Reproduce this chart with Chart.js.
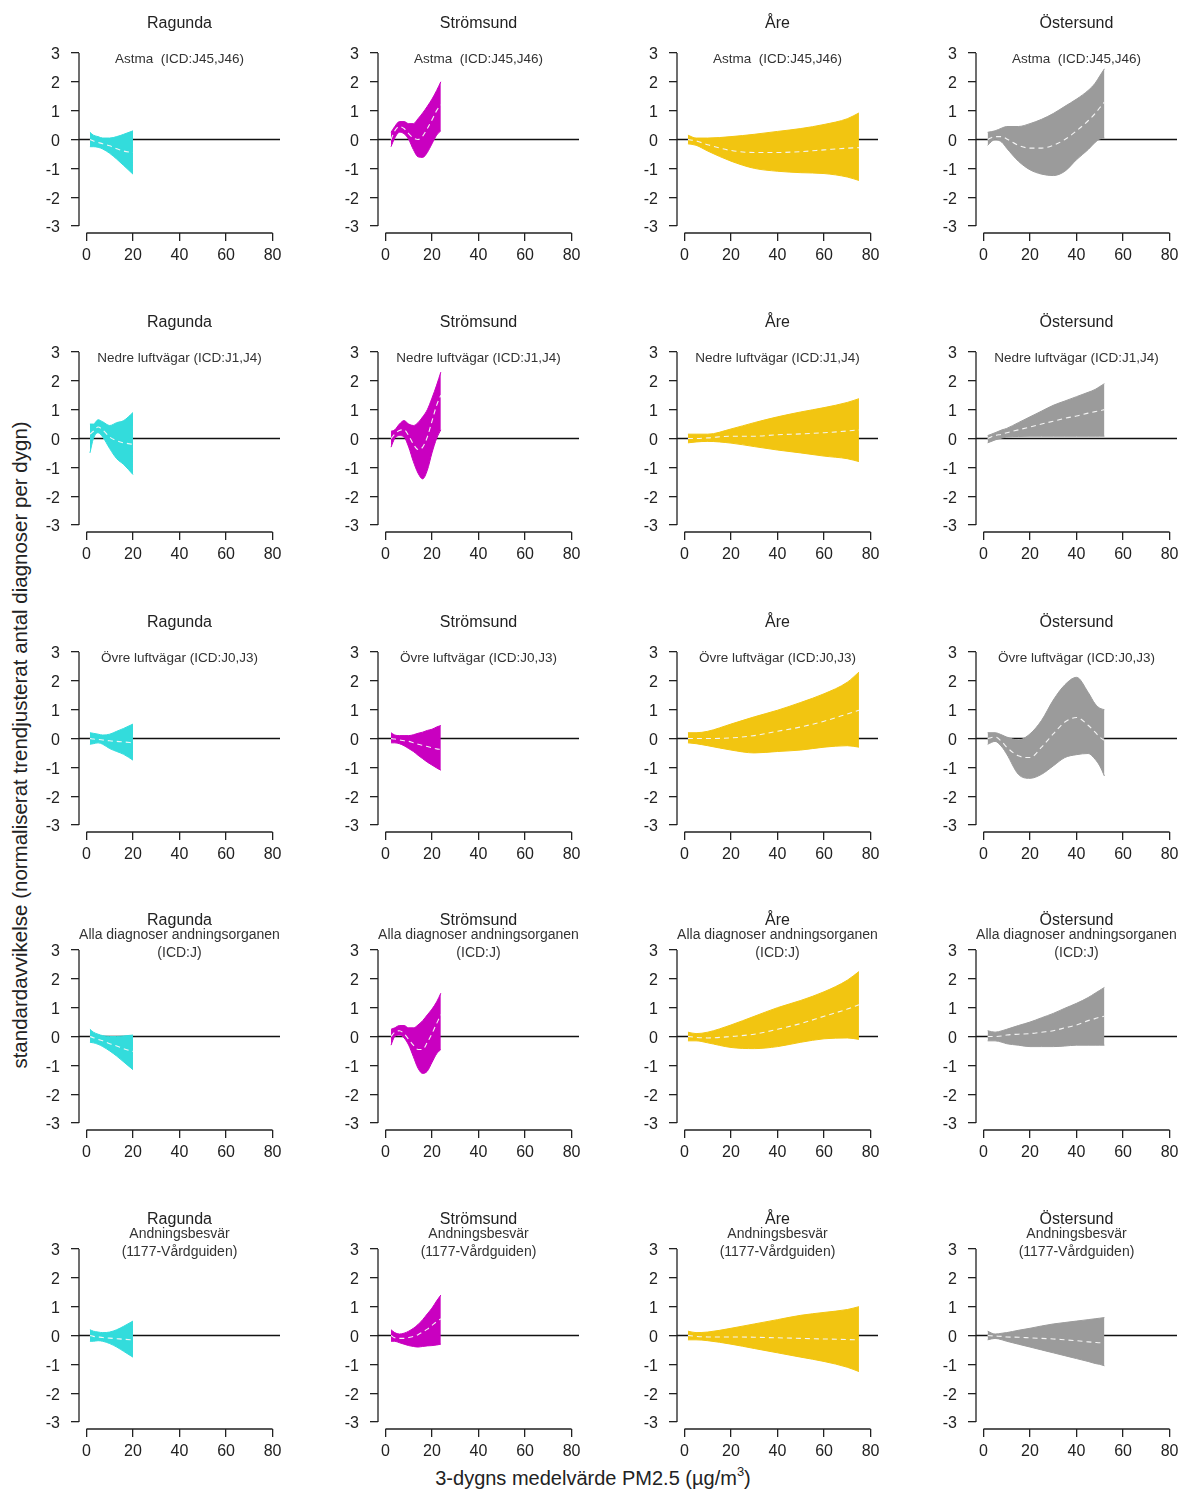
<!DOCTYPE html>
<html lang="sv">
<head>
<meta charset="utf-8">
<title>PM2.5 och andningsdiagnoser</title>
<script src="https://cdn.jsdelivr.net/npm/chart.js@4.4.1/dist/chart.umd.min.js"></script>
<style>
    html, body { margin: 0; padding: 0; background: #fff; }
    body {
        width: 1180px; height: 1492px; position: relative; overflow: hidden;
        font-family: "Liberation Sans", Arial, sans-serif; color: #222;
    }
    canvas.panel { position: absolute; }
    #ytitel {
        position: absolute; left: 20px; top: 745px; white-space: nowrap; font-size: 20.5px;
        transform: translate(-50%, -50%) rotate(-90deg);
    }
    #xtitel {
        position: absolute; left: 593px; top: 1478px; white-space: nowrap; font-size: 20px;
        transform: translate(-50%, -50%);
    }
    #xtitel sup { font-size: 13px; line-height: 0; vertical-align: 9px; }
</style>
</head>
<body>
<div id="ytitel">standardavvikelse (normaliserat trendjusterat antal diagnoser per dygn)</div>
<div id="xtitel">3-dygns medelvärde PM2.5 (µg/m<sup>3</sup>)</div>
<script>
// Orter (kolumner) och diagnosgrupper (rader)
const orter = ["Ragunda", "Strömsund", "Åre", "Östersund"];
const diagnoser = [
    ["Astma  (ICD:J45,J46)"],
    ["Nedre luftvägar (ICD:J1,J4)"],
    ["Övre luftvägar (ICD:J0,J3)"],
    ["Alla diagnoser andningsorganen", "(ICD:J)"],
    ["Andningsbesvär", "(1177-Vårdguiden)"],
];
const xTicks = [0, 20, 40, 60, 80];
const yTicks = [-3, -2, -1, 0, 1, 2, 3];

// --- Ragunda ---
const xRag = [1.5, 3, 5, 7, 10, 13, 16, 20];
const ragAstmaHi = [0.25, 0.15, 0.1, 0.05, 0.05, 0.1, 0.18, 0.3];
const ragAstmaMid = [0, -0.05, -0.1, -0.15, -0.22, -0.32, -0.4, -0.45];
const ragAstmaLo = [-0.25, -0.25, -0.27, -0.33, -0.48, -0.68, -0.9, -1.2];
const ragNedreHi = [0.5, 0.5, 0.65, 0.58, 0.45, 0.55, 0.62, 0.9];
const ragNedreMid = [0.15, 0.25, 0.4, 0.3, 0.05, -0.08, -0.15, -0.2];
const ragNedreLo = [-0.5, 0.0, 0.2, 0.05, -0.35, -0.7, -0.9, -1.25];
const ragOvreHi = [0.2, 0.18, 0.15, 0.12, 0.15, 0.25, 0.35, 0.5];
const ragOvreMid = [0, -0.02, -0.03, -0.05, -0.08, -0.1, -0.12, -0.15];
const ragOvreLo = [-0.2, -0.18, -0.15, -0.2, -0.35, -0.45, -0.55, -0.75];
const ragAllaHi = [0.25, 0.15, 0.08, 0.03, 0.0, 0.0, 0.02, 0.05];
const ragAllaMid = [0, -0.04, -0.1, -0.15, -0.25, -0.33, -0.42, -0.52];
const ragAllaLo = [-0.2, -0.22, -0.27, -0.35, -0.5, -0.68, -0.88, -1.15];
const ragAndnHi = [0.2, 0.15, 0.12, 0.1, 0.12, 0.2, 0.32, 0.5];
const ragAndnMid = [0, -0.03, -0.05, -0.07, -0.09, -0.11, -0.13, -0.15];
const ragAndnLo = [-0.2, -0.2, -0.18, -0.2, -0.28, -0.4, -0.55, -0.75];

// --- Strömsund ---
const xStr = [2.4, 4, 6, 8, 10, 12, 14, 16, 18, 20, 22, 23.8];
const strAstmaHi = [0.25, 0.45, 0.62, 0.62, 0.55, 0.55, 0.72, 0.92, 1.15, 1.4, 1.7, 2.0];
const strAstmaMid = [0, 0.3, 0.45, 0.38, 0.2, 0.05, 0.0, 0.12, 0.38, 0.68, 1.0, 1.2];
const strAstmaLo = [-0.25, 0.05, 0.25, 0.2, 0.0, -0.35, -0.6, -0.62, -0.45, -0.15, 0.15, 0.3];
const strNedreHi = [0.25, 0.3, 0.5, 0.62, 0.5, 0.45, 0.55, 0.75, 1.0, 1.4, 1.85, 2.3];
const strNedreMid = [0, 0.15, 0.28, 0.3, 0.1, -0.2, -0.38, -0.3, 0.05, 0.6, 1.15, 1.5];
const strNedreLo = [-0.3, 0.0, 0.1, 0.05, -0.3, -0.8, -1.2, -1.4, -1.1, -0.5, 0.0, 0.3];
const strOvreHi = [0.2, 0.12, 0.1, 0.1, 0.1, 0.13, 0.18, 0.22, 0.28, 0.32, 0.4, 0.45];
const strOvreMid = [0, -0.02, -0.05, -0.08, -0.1, -0.15, -0.2, -0.24, -0.28, -0.32, -0.36, -0.38];
const strOvreLo = [-0.15, -0.15, -0.18, -0.25, -0.35, -0.45, -0.58, -0.7, -0.82, -0.92, -1.02, -1.1];
const strAllaHi = [0.25, 0.3, 0.38, 0.38, 0.3, 0.3, 0.4, 0.55, 0.75, 0.95, 1.2, 1.5];
const strAllaMid = [0, 0.15, 0.2, 0.1, -0.1, -0.3, -0.45, -0.45, -0.2, 0.1, 0.45, 0.75];
const strAllaLo = [-0.3, 0.0, 0.05, -0.05, -0.3, -0.7, -1.1, -1.28, -1.2, -0.9, -0.6, -0.45];
const strAndnHi = [0.2, 0.1, 0.05, 0.08, 0.15, 0.25, 0.38, 0.55, 0.75, 0.95, 1.2, 1.4];
const strAndnMid = [0, -0.08, -0.1, -0.1, -0.07, -0.03, 0.03, 0.12, 0.22, 0.35, 0.48, 0.58];
const strAndnLo = [-0.2, -0.2, -0.25, -0.3, -0.35, -0.38, -0.4, -0.38, -0.36, -0.35, -0.33, -0.3];

// --- Åre ---
const xAre = [1.5, 5, 10, 20, 30, 40, 50, 60, 70, 75];
const areAstmaHi = [0.15, 0.05, 0.05, 0.1, 0.18, 0.28, 0.38, 0.52, 0.72, 0.92];
const areAstmaMid = [0, -0.05, -0.18, -0.38, -0.45, -0.45, -0.42, -0.36, -0.3, -0.28];
const areAstmaLo = [-0.15, -0.2, -0.4, -0.75, -1.0, -1.1, -1.15, -1.18, -1.3, -1.42];
const areNedreHi = [0.15, 0.15, 0.15, 0.33, 0.55, 0.75, 0.92, 1.07, 1.25, 1.38];
const areNedreMid = [0, 0, 0.02, 0.08, 0.08, 0.13, 0.16, 0.2, 0.26, 0.3];
const areNedreLo = [-0.15, -0.12, -0.1, -0.16, -0.28, -0.4, -0.5, -0.61, -0.7, -0.8];
const areOvreHi = [0.2, 0.2, 0.25, 0.5, 0.75, 0.98, 1.25, 1.55, 1.95, 2.3];
const areOvreMid = [0, 0, 0, 0.02, 0.1, 0.25, 0.4, 0.6, 0.85, 0.98];
const areOvreLo = [-0.15, -0.18, -0.25, -0.4, -0.5, -0.45, -0.4, -0.3, -0.25, -0.3];
const areAllaHi = [0.15, 0.1, 0.15, 0.4, 0.7, 1.0, 1.25, 1.55, 1.95, 2.25];
const areAllaMid = [0, -0.03, -0.05, 0, 0.08, 0.25, 0.45, 0.7, 0.95, 1.1];
const areAllaLo = [-0.15, -0.15, -0.22, -0.38, -0.42, -0.35, -0.2, -0.08, -0.05, -0.1];
const areAndnHi = [0.15, 0.1, 0.12, 0.25, 0.4, 0.55, 0.7, 0.8, 0.9, 1.0];
const areAndnMid = [0, -0.03, -0.05, -0.05, -0.06, -0.08, -0.1, -0.12, -0.14, -0.15];
const areAndnLo = [-0.15, -0.15, -0.18, -0.3, -0.45, -0.6, -0.75, -0.9, -1.1, -1.25];

// --- Östersund ---
const xOst = [1.8, 5, 8, 10, 15, 20, 25, 30, 35, 40, 45, 48, 50, 52];
const ostAstmaHi = [0.25, 0.3, 0.4, 0.45, 0.45, 0.55, 0.7, 0.9, 1.15, 1.4, 1.7, 1.95, 2.2, 2.45];
const ostAstmaMid = [0, 0.1, 0.1, 0.02, -0.2, -0.3, -0.3, -0.2, 0.0, 0.3, 0.65, 0.9, 1.1, 1.3];
const ostAstmaLo = [-0.2, 0.0, -0.1, -0.3, -0.75, -1.05, -1.2, -1.25, -1.1, -0.7, -0.35, -0.1, 0.02, 0.05];
const ostNedreHi = [0.1, 0.2, 0.3, 0.35, 0.55, 0.75, 0.95, 1.15, 1.3, 1.45, 1.6, 1.7, 1.8, 1.9];
const ostNedreMid = [0, 0.1, 0.15, 0.2, 0.3, 0.4, 0.5, 0.6, 0.7, 0.78, 0.88, 0.93, 0.96, 1.0];
const ostNedreLo = [-0.15, -0.05, 0.02, 0.05, 0.07, 0.08, 0.08, 0.08, 0.08, 0.08, 0.08, 0.08, 0.08, 0.08];
const ostOvreHi = [0.2, 0.2, 0.12, 0.05, -0.05, 0.16, 0.63, 1.33, 1.86, 2.12, 1.6, 1.2, 1.05, 1.0];
const ostOvreMid = [0, 0.05, -0.12, -0.3, -0.6, -0.66, -0.3, 0.16, 0.57, 0.73, 0.46, 0.22, 0.05, -0.07];
const ostOvreLo = [-0.2, -0.1, -0.3, -0.54, -1.24, -1.38, -1.24, -0.95, -0.66, -0.56, -0.52, -0.72, -0.95, -1.3];
const ostAllaHi = [0.2, 0.15, 0.2, 0.25, 0.38, 0.5, 0.65, 0.8, 0.98, 1.15, 1.35, 1.5, 1.6, 1.7];
const ostAllaMid = [0, 0, 0.02, 0.05, 0.08, 0.1, 0.15, 0.2, 0.3, 0.4, 0.55, 0.62, 0.67, 0.7];
const ostAllaLo = [-0.15, -0.15, -0.2, -0.25, -0.3, -0.35, -0.35, -0.35, -0.33, -0.3, -0.3, -0.3, -0.3, -0.3];
const ostAndnHi = [0.15, 0.05, 0.08, 0.1, 0.18, 0.25, 0.33, 0.4, 0.45, 0.5, 0.55, 0.58, 0.6, 0.62];
const ostAndnMid = [0, -0.02, -0.03, -0.05, -0.06, -0.08, -0.1, -0.12, -0.15, -0.18, -0.22, -0.24, -0.25, -0.25];
const ostAndnLo = [-0.15, -0.1, -0.15, -0.2, -0.3, -0.4, -0.5, -0.6, -0.7, -0.8, -0.9, -0.97, -1.0, -1.05];

// Paneler: rad = diagnosgrupp, kolumn = ort -> [x, nedre, mitt, övre]
const paneler = [
    [[xRag, ragAstmaLo, ragAstmaMid, ragAstmaHi], [xStr, strAstmaLo, strAstmaMid, strAstmaHi],
     [xAre, areAstmaLo, areAstmaMid, areAstmaHi], [xOst, ostAstmaLo, ostAstmaMid, ostAstmaHi]],
    [[xRag, ragNedreLo, ragNedreMid, ragNedreHi], [xStr, strNedreLo, strNedreMid, strNedreHi],
     [xAre, areNedreLo, areNedreMid, areNedreHi], [xOst, ostNedreLo, ostNedreMid, ostNedreHi]],
    [[xRag, ragOvreLo, ragOvreMid, ragOvreHi], [xStr, strOvreLo, strOvreMid, strOvreHi],
     [xAre, areOvreLo, areOvreMid, areOvreHi], [xOst, ostOvreLo, ostOvreMid, ostOvreHi]],
    [[xRag, ragAllaLo, ragAllaMid, ragAllaHi], [xStr, strAllaLo, strAllaMid, strAllaHi],
     [xAre, areAllaLo, areAllaMid, areAllaHi], [xOst, ostAllaLo, ostAllaMid, ostAllaHi]],
    [[xRag, ragAndnLo, ragAndnMid, ragAndnHi], [xStr, strAndnLo, strAndnMid, strAndnHi],
     [xAre, areAndnLo, areAndnMid, areAndnHi], [xOst, ostAndnLo, ostAndnMid, ostAndnHi]],
];

// En färg per ort
const farger = ["#33dcdc", "#c900c0", "#f2c511", "#9b9b9b"];

// Placering av panelerna på sidan
const kolumnX = [0, 299, 598, 897];
const radY = [0, 299, 599, 897, 1196];

const typsnitt = '"Liberation Sans", Arial, sans-serif';

function punkter(xs, ys) {
    return xs.map((x, i) => ({ x: x, y: ys[i] }));
}

// Nollinje, axellinjer i R-stil och rubriker
const panelRam = {
    id: "panelRam",
    beforeDatasetsDraw(chart) {
        const { ctx, chartArea: a, scales } = chart;
        const y0 = scales.y.getPixelForValue(0);
        ctx.save();
        ctx.strokeStyle = "#111";
        ctx.lineWidth = 1.3;
        ctx.beginPath();
        ctx.moveTo(a.left, y0);
        ctx.lineTo(a.right, y0);
        ctx.stroke();
        ctx.restore();
    },
    afterDraw(chart, args, opts) {
        const { ctx, chartArea: a, scales } = chart;
        ctx.save();
        ctx.strokeStyle = "#222";
        ctx.lineWidth = 1.3;
        ctx.beginPath();
        ctx.moveTo(a.left, scales.y.getPixelForValue(yTicks[0]));
        ctx.lineTo(a.left, scales.y.getPixelForValue(yTicks[yTicks.length - 1]));
        ctx.moveTo(scales.x.getPixelForValue(xTicks[0]), a.bottom);
        ctx.lineTo(scales.x.getPixelForValue(xTicks[xTicks.length - 1]), a.bottom);
        ctx.stroke();

        const cx = (a.left + a.right) / 2;
        ctx.textAlign = "center";
        ctx.textBaseline = "alphabetic";
        ctx.fillStyle = "#222";
        ctx.font = "16px " + typsnitt;
        ctx.fillText(opts.ort, cx, a.top - 18);

        ctx.fillStyle = "#333";
        if (opts.rader.length === 1) {
            ctx.font = "13.5px " + typsnitt;
            ctx.fillText(opts.rader[0], cx, a.top + 17);
        } else {
            ctx.font = "14px " + typsnitt;
            ctx.fillText(opts.rader[0], cx, a.top - 4.5);
            ctx.fillText(opts.rader[1], cx, a.top + 13.5);
        }
        ctx.restore();
    },
};

diagnoser.forEach((diag, r) => {
    orter.forEach((ort, c) => {
        const [xs, lo, mid, hi] = paneler[r][c];
        const farg = farger[c];

        const canvas = document.createElement("canvas");
        canvas.className = "panel";
        canvas.width = 290;
        canvas.height = 299;
        canvas.style.left = kolumnX[c] + "px";
        canvas.style.top = radY[r] + "px";
        document.body.appendChild(canvas);

        new Chart(canvas, {
            type: "line",
            data: {
                datasets: [
                    {
                        // mittkurvan, streckad och vit ovanpå bandet
                        data: punkter(xs, mid),
                        borderColor: "#f4f4f4",
                        borderWidth: 1.1,
                        borderDash: [5, 4],
                        fill: false,
                        cubicInterpolationMode: "monotone",
                    },
                    {
                        data: punkter(xs, hi),
                        borderColor: farg,
                        borderWidth: 1,
                        backgroundColor: farg,
                        fill: "+1",
                        cubicInterpolationMode: "monotone",
                    },
                    {
                        data: punkter(xs, lo),
                        borderColor: farg,
                        borderWidth: 1,
                        fill: false,
                        cubicInterpolationMode: "monotone",
                    },
                ],
            },
            options: {
                responsive: false,
                animation: false,
                devicePixelRatio: 1,
                layout: { padding: { top: 46, right: 10, left: 0, bottom: 0 } },
                elements: { point: { radius: 0, hoverRadius: 0 } },
                plugins: {
                    legend: { display: false },
                    tooltip: { enabled: false },
                    panelRam: { ort: ort, rader: diag },
                },
                scales: {
                    x: {
                        type: "linear",
                        min: -3.2,
                        max: 83.2,
                        afterBuildTicks: (s) => { s.ticks = xTicks.map((v) => ({ value: v })); },
                        afterFit: (s) => { s.height = 66; },
                        border: { display: false },
                        grid: { drawOnChartArea: false, drawTicks: true, tickLength: 8, color: "#222", lineWidth: 1.3 },
                        ticks: {
                            padding: 5,
                            maxRotation: 0,
                            autoSkip: false,
                            color: "#222",
                            font: { family: typsnitt, size: 16 },
                            callback: (v) => String(v),
                        },
                    },
                    y: {
                        type: "linear",
                        min: -3.24,
                        max: 3.24,
                        afterBuildTicks: (s) => { s.ticks = yTicks.map((v) => ({ value: v })); },
                        afterFit: (s) => { s.width = 79; },
                        border: { display: false },
                        grid: { drawOnChartArea: false, drawTicks: true, tickLength: 8, color: "#222", lineWidth: 1.3 },
                        ticks: {
                            padding: 11,
                            labelOffset: 2,
                            color: "#222",
                            font: { family: typsnitt, size: 16 },
                            callback: (v) => String(v),
                        },
                    },
                },
            },
            plugins: [panelRam],
        });
    });
});
</script>
</body>
</html>
